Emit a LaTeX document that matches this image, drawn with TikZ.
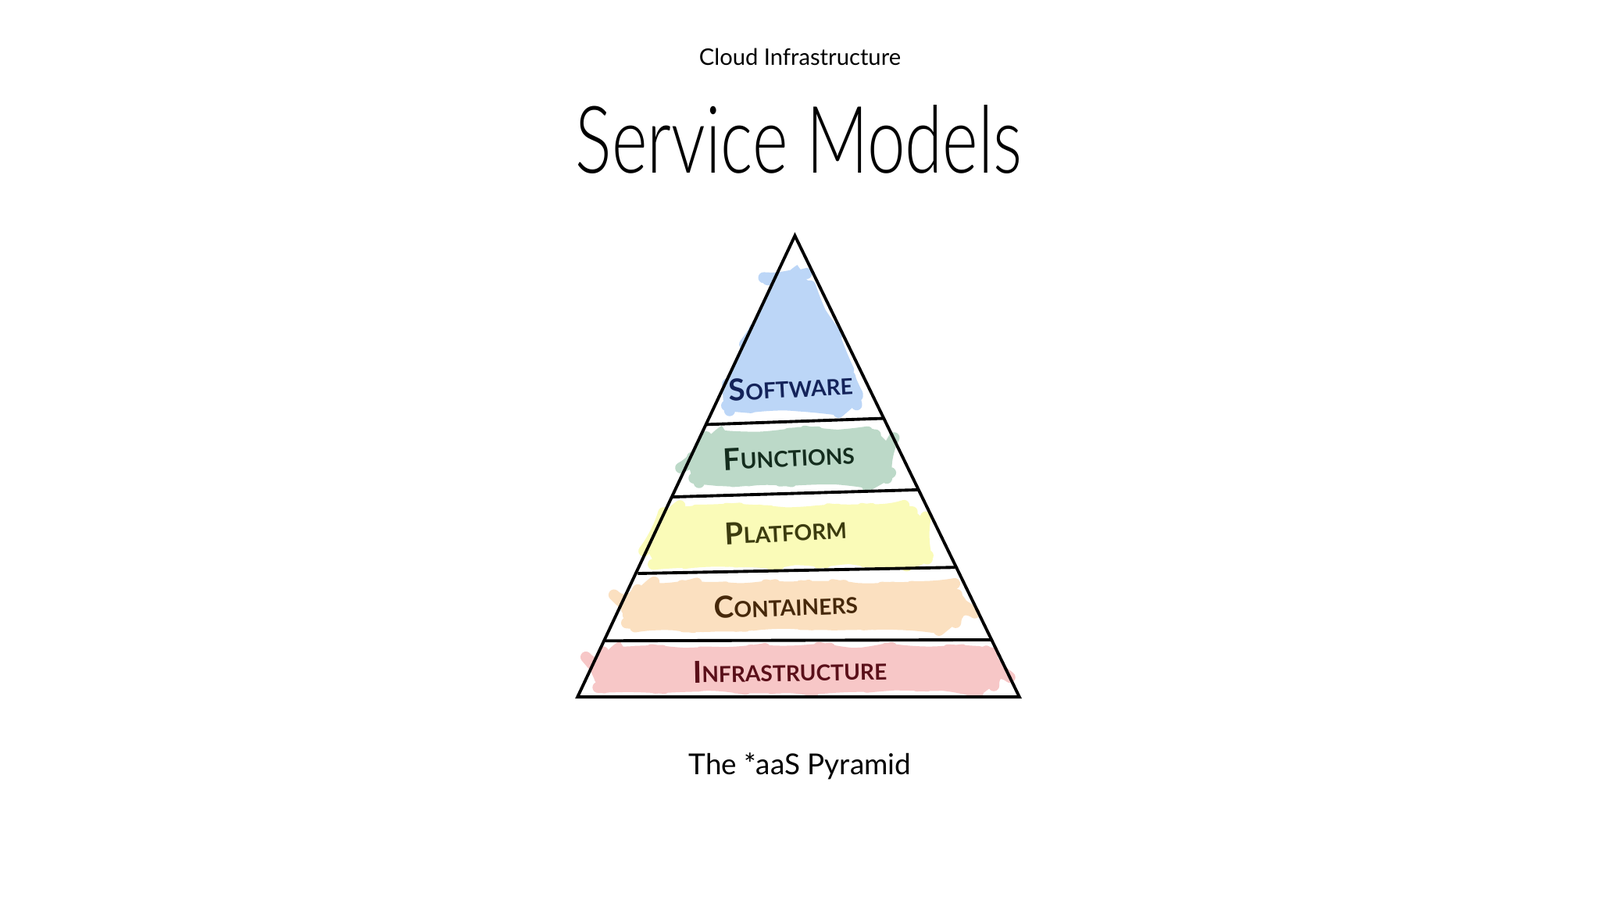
\documentclass[tikz,border=0pt]{standalone}
\usepackage{fontspec}
\setmainfont{Lato}
\usetikzlibrary{decorations.pathmorphing}
\definecolor{cblue}{HTML}{BCD6F7}
\definecolor{cgreen}{HTML}{BCD9C8}
\definecolor{cyellow}{HTML}{FAFBB8}
\definecolor{corange}{HTML}{FBE0C0}
\definecolor{cpink}{HTML}{F7C7C7}
\definecolor{tblue}{RGB}{20,35,90}
\definecolor{tgreen}{RGB}{20,45,30}
\definecolor{tyellow}{RGB}{60,60,15}
\definecolor{torange}{RGB}{70,40,10}
\definecolor{tpink}{RGB}{90,15,25}
\tikzset{
  blob/.style={fill=#1, draw=#1, line width=4pt, rounded corners=8pt, line join=round,
    decorate, decoration={random steps, segment length=6pt, amplitude=1pt}},
  edge/.style={draw=black, line width=1.1pt, line join=miter},
  lab/.style={font=\bfseries, text=#1, inner sep=0pt}
}
\newcommand{\hs}[2]{{\fontsize{11}{11}\selectfont #1}{\fontsize{8}{10}\selectfont #2}}
\begin{document}
\begin{tikzpicture}[x=0.013061cm, y=-0.013061cm]
\useasboundingbox (0,0) rectangle (1568,882);
\fill[white] (0,0) rectangle (1568,882);
% colour fills
\path[blob=cblue] (766,272) -- (780,270) -- (818,330) -- (842,396) -- (712,400) -- (734,340) -- cycle;
\path[blob=cgreen] (692,428) -- (858,425) -- (872,468) -- (680,471) -- cycle;
\path[blob=cyellow] (648,502) -- (894,500) -- (908,548) -- (640,551) -- cycle;
\path[blob=corange] (622,577) -- (936,576) -- (940,610) -- (614,612) -- cycle;
\path[blob=cpink] (592,639) -- (972,638) -- (974,672) -- (586,673) -- cycle;
% pyramid
\coordinate (apex) at (779,231);
\coordinate (bl) at (566,683);
\coordinate (br) at (999,683);
\draw[edge] (apex) -- (br) -- (bl) -- cycle;
\coordinate (a1) at (693,416); \coordinate (b1) at (866,410);
\coordinate (a2) at (659,487); \coordinate (b2) at (900,480);
\coordinate (a3) at (625,562); \coordinate (b3) at (936,556);
\coordinate (a4) at (593,628); \coordinate (b4) at (971,627);
\draw[edge] (a1) -- (b1);
\draw[edge] (a2) -- (b2);
\draw[edge] (a3) -- (b3);
\draw[edge] (a4) -- (b4);
% labels
\node[lab=tblue, rotate=3] (l1) at (775,379) {\hs{S}{OFTWARE}};
\node[lab=tgreen, rotate=3] (l2) at (773,447) {\hs{F}{UNCTIONS}};
\node[lab=tyellow, rotate=3] (l3) at (770,520) {\hs{P}{LATFORM}};
\node[lab=torange, rotate=2] (l4) at (770,593) {\hs{C}{ONTAINERS}};
\node[lab=tpink, rotate=1] (l5) at (774,657) {\hs{I}{NFRASTRUCTURE}};
% titles
\node[font=\fontsize{8.3}{10}\selectfont] (t0) at (784,56) {Cloud Infrastructure};
\node[font=\fontsize{34}{36}\selectfont\fontspec{Lato Light}] (t1) at (783,137) {\scalebox{0.73}[1]{Service Models}};
\node[font=\fontsize{10.5}{12}\selectfont] (t2) at (784,751) {The *aaS Pyramid};
\end{tikzpicture}
\end{document}
